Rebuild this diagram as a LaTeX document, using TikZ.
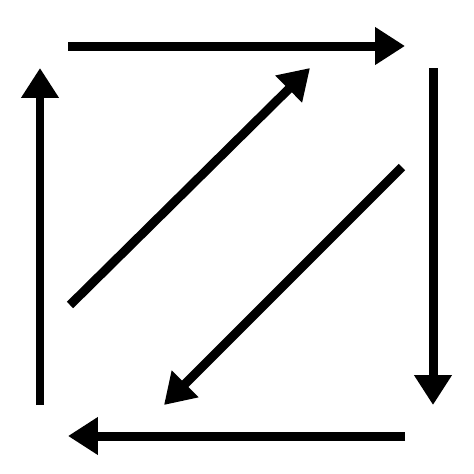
\documentclass[tikz,border=0pt]{standalone}
\usetikzlibrary{arrows.meta}

\begin{document}
\begin{tikzpicture}[x=0.02cm, y=-0.02cm,
    arr/.style={-{Triangle[length=0.6cm, width=0.72cm]}, line width=0.18cm}]
        \useasboundingbox (0, 0) rectangle (474, 474);

        % Outer square: corners
        \coordinate (topL) at (68, 46);
        \coordinate (topR) at (405, 46);
        \coordinate (rightT) at (433, 68);
        \coordinate (rightB) at (433, 405);
        \coordinate (botR) at (405, 436);
        \coordinate (botL) at (68, 436);
        \coordinate (leftB) at (40, 405);
        \coordinate (leftT) at (40, 68);

        \draw[arr] (topL) -- (topR);
        \draw[arr] (rightT) -- (rightB);
        \draw[arr] (botR) -- (botL);
        \draw[arr] (leftB) -- (leftT);

        % Diagonals
        \coordinate (upS) at (70, 305);
        \coordinate (upE) at (310, 68);
        \coordinate (downS) at (402, 167);
        \coordinate (downE) at (164, 405);

        \draw[arr] (upS) -- (upE);
        \draw[arr] (downS) -- (downE);
    \end{tikzpicture}
\end{document}
